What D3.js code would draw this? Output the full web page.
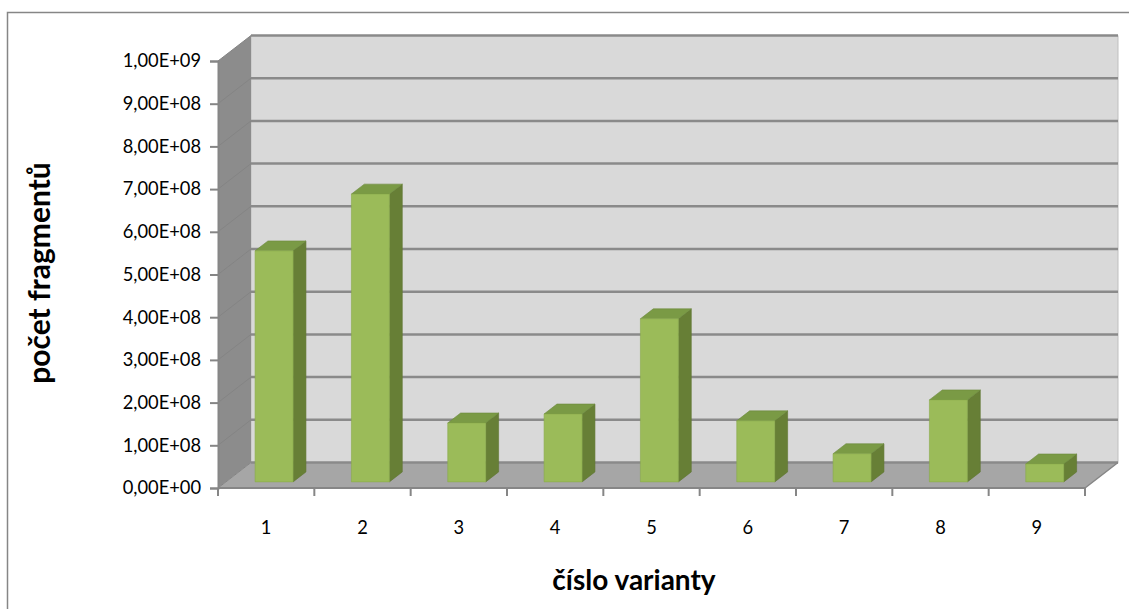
<!DOCTYPE html>
<html>
<head>
<meta charset="utf-8">
<script src="https://cdn.jsdelivr.net/npm/d3@7"></script>
<style>
body { margin: 0; background: #fff; }
text { font-family: Lato, "Open Sans", sans-serif; fill: #000; }
</style>
</head>
<body>
<svg width="1129" height="609"></svg>
<script>
var categories = ["1", "2", "3", "4", "5", "6", "7", "8", "9"]
var values = [5.41e8, 6.74e8, 1.38e8, 1.59e8, 3.82e8, 1.43e8, 0.66e8, 1.92e8, 0.42e8]
var yTicks = [0, 1e8, 2e8, 3e8, 4e8, 5e8, 6e8, 7e8, 8e8, 9e8, 1e9]

var svg = d3.select("svg")

// depth of the 3d box
var DX = 33, DY = 25.5
function off(p, t) { return [p[0] + DX * t, p[1] - DY * t] }

var x = d3.scaleBand().domain(categories).range([218, 1085])
var y = d3.scaleLinear().domain([0, 1e9]).range([488, 61])

function fmt(v) {
    var e = v === 0 ? 0 : Math.floor(Math.log10(v))
    var m = v / Math.pow(10, e)
    return m.toFixed(2).replace(".", ",") + "E+" + (e < 10 ? "0" + e : e)
}

svg.append("rect").attr("x", 7.5).attr("y", 12.5).attr("width", 1130).attr("height", 610)
    .attr("fill", "#fff").attr("stroke", "#868686").attr("stroke-width", 1.5)

var x0 = 218, x1 = 1085, yb = y(0), yt = y(1e9)
var poly = function(pts) { return "M" + pts.map(p => p.join(",")).join("L") + "Z" }

// back wall
svg.append("path").attr("d", poly([off([x0, yt], 1), off([x1, yt], 1), off([x1, yb], 1), off([x0, yb], 1)]))
    .attr("fill", "#d9d9d9").attr("stroke", "#bfbfbf")
// left wall
svg.append("path").attr("d", poly([[x0, yb], [x0, yt], off([x0, yt], 1), off([x0, yb], 1)]))
    .attr("fill", "#8c8c8c")
// floor
svg.append("path").attr("d", poly([[x0, yb], off([x0, yb], 1), off([x1, yb], 1), [x1, yb]]))
    .attr("fill", "#a6a6a6")

// gridlines
yTicks.forEach(function(v) {
    var a = off([x0, y(v)], 1), b = off([x1, y(v)], 1)
    svg.append("line").attr("x1", a[0]).attr("y1", a[1]).attr("x2", b[0]).attr("y2", b[1])
        .attr("stroke", "#8a8a8a").attr("stroke-width", 2.5)
    svg.append("line").attr("x1", x0).attr("y1", y(v)).attr("x2", a[0]).attr("y2", a[1])
        .attr("stroke", "#848484").attr("stroke-width", 1)
})

// axes
var yAxis = svg.append("g").attr("transform", "translate(" + x0 + ",0)")
    .call(d3.axisLeft(y).tickValues(yTicks).tickFormat(fmt).tickSize(8).tickPadding(9))
yAxis.select(".domain").attr("stroke", "#868686").attr("stroke-width", 2)
yAxis.selectAll(".tick line").attr("stroke", "#868686").attr("stroke-width", 2)
yAxis.selectAll("text").style("font-size", "18.3px").attr("fill", "#000")

var xAxis = svg.append("g").attr("transform", "translate(0," + yb + ")")
    .call(d3.axisBottom(x).tickSize(0).tickPadding(33))
xAxis.select(".domain").remove()
xAxis.selectAll("text").style("font-size", "18.3px").attr("fill", "#000")
svg.append("line").attr("x1", x0).attr("y1", yb).attr("x2", x1).attr("y2", yb)
    .attr("stroke", "#868686").attr("stroke-width", 2)
svg.append("path")
    .attr("d", poly([[x1, yb], off([x1, yb], 1)]))
    .attr("stroke", "#868686").attr("stroke-width", 1.5).attr("fill", "none")
categories.concat(["end"]).forEach(function(c, i) {
    var xx = x0 + x.step() * i
    svg.append("line").attr("x1", xx).attr("y1", yb).attr("x2", xx).attr("y2", yb + 8)
        .attr("stroke", "#868686").attr("stroke-width", 2)
})

// bars
var tF = 0.24, tB = 0.63, bw = 38
var bars = svg.append("g").selectAll("g").data(values).join("g")
bars.each(function(v, i) {
    var g = d3.select(this)
    var l = x(categories[i]) + (x.bandwidth() - bw) / 2
    var r = l + bw
    var bl = off([l, y(0)], tF), br = off([r, y(0)], tF)
    var tl = off([l, y(v)], tF), tr = off([r, y(v)], tF)
    var dt = tB - tF
    g.append("path").attr("d", poly([br, tr, off(tr, dt), off(br, dt)]))
        .attr("fill", "#677f36").attr("stroke", "#5f7632").attr("stroke-width", 0.6)
    g.append("path").attr("d", poly([tl, tr, off(tr, dt), off(tl, dt)]))
        .attr("fill", "#7a9a45").attr("stroke", "#6c8a3c").attr("stroke-width", 0.6)
    g.append("path").attr("d", poly([bl, tl, tr, br]))
        .attr("fill", "#9bbb59").attr("stroke", "#8aab4c").attr("stroke-width", 0.6)
})

// axis titles
svg.append("text").attr("x", 634).attr("y", 590).attr("text-anchor", "middle")
    .style("font-size", "28px").style("font-weight", "bold").text("číslo varianty")
svg.append("text").attr("transform", "translate(50,273) rotate(-90)").attr("text-anchor", "middle")
    .style("font-size", "30px").style("font-weight", "bold").text("počet fragmentů")
</script>
</body>
</html>
